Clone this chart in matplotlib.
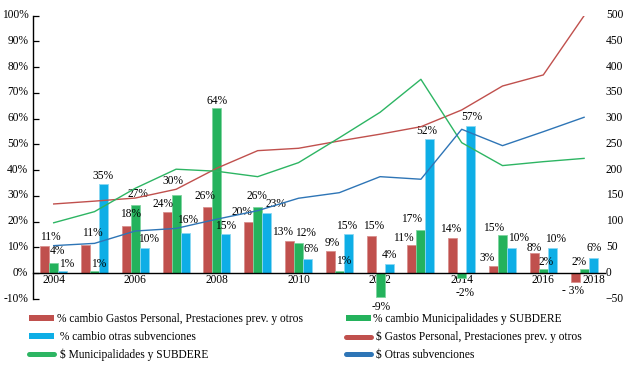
import matplotlib
matplotlib.use("Agg")
import matplotlib.pyplot as plt
from matplotlib.patches import Rectangle
from matplotlib.lines import Line2D
from matplotlib.transforms import ScaledTranslation
import numpy as np

plt.rcParams['font.family'] = ['Liberation Serif', 'DejaVu Serif']
plt.rcParams['font.size'] = 8.3

# ---------------- data ----------------
years = [2004, 2005, 2006, 2007, 2008, 2009, 2010, 2011, 2012, 2013, 2014, 2015, 2016, 2017]
tick_labels = ['2004', '2006', '2008', '2010', '2012', '2014', '2016', '2018']

pct_gastos = [10.6, 11.1, 18.4, 23.6, 25.8, 19.9, 12.6, 8.5, 14.5, 11.1, 13.8, 2.7, 7.8, -3.4]
pct_munis = [3.9, 0.9, 26.6, 30.4, 64.2, 25.8, 11.6, 0.8, -9.1, 16.7, -1.8, 15.0, 1.6, 1.8]
pct_otras = [0.7, 34.6, 9.9, 15.6, 15.2, 23.4, 5.6, 15.2, 3.6, 52.1, 57.0, 9.8, 9.9, 6.0]

lbl_gastos = ['11%', '11%', '18%', '24%', '26%', '20%', '13%', '9%', '15%', '11%', '14%', '3%', '8%', '- 3%']
lbl_munis = ['4%', '1%', '27%', '30%', '64%', '26%', '12%', '1%', '-9%', '17%', '-2%', '15%', '2%', '2%']
lbl_otras = ['1%', '35%', '10%', '16%', '15%', '23%', '6%', '15%', '4%', '52%', '57%', '10%', '10%', '6%']

mm_gastos = [134.5, 140, 146, 163, 204, 238, 242.6, 256.8, 270, 284.5, 317, 363.5, 385, 500]
mm_munis = [98, 119.6, 165, 202, 198, 187.5, 214.7, 263, 312.5, 376.5, 253.5, 209, 216.6, 223]
mm_otras = [53.6, 58, 82, 87, 105, 121.5, 145.6, 156.4, 187.5, 182.5, 279.5, 247.7, 274.8, 302.8]

legend_labels = [
    '% cambio Gastos Personal, Prestaciones prev. y otros',
    '% cambio Municipalidades y SUBDERE',
    ' % cambio otras subvenciones',
    ' $ Gastos Personal, Prestaciones prev. y otros',
    ' $ Municipalidades y SUBDERE',
    ' $ Otras subvenciones',
]

# ---------------- style ----------------
c_red, c_green, c_blue = '#C0504D', '#24B25C', '#0EAEE6'
e_red, e_green, e_blue = '#D9908E', '#7FD49F', '#8AD8F2'
l_red, l_green, l_blue = '#C0504D', '#2DB563', '#2E75B6'

# label nudges (dx, dy) in pixels relative to default placement
nudge_gastos = [(6, 0), (6.5, 3), (4, 3.5), (-4, 0), (-2.5, 2.5), (-7, 1), (-6.5, 0), (2, 0),
                (2, 1.5), (-9, -1.5), (-2, 0), (-6, 0), (0, -3.5), (-2, 0)]
nudge_munis = [(3.5, 3.5), (4, -1.5), (3, 2.5), (-3, 5), (0, -2), (-1, 2.5), (6.5, 2), (4, 1.5),
               (1, 1.5), (-9, 3), (3, 7), (-9, -2), (2.5, -1), (-5, -1.5)]
nudge_otras = [(4, -1), (0, 0), (4, 0), (2, 4.5), (0, 0), (9, 0), (4, 1), (-1.5, 0),
               (0, 0), (-3, 0), (1, 0.5), (7, 2), (3.5, 0), (1, 1)]

fig = plt.figure(figsize=(6.31, 3.67), dpi=100)
ax = fig.add_axes([33.3 / 631, 1 - 299 / 367, (604.5 - 33.3) / 631, (299 - 15.7) / 367])

x = np.arange(len(years))
w = 0.22
ax.bar(x - w, pct_gastos, w, color=c_red, edgecolor=e_red, linewidth=0.6, zorder=2)
ax.bar(x, pct_munis, w, color=c_green, edgecolor=e_green, linewidth=0.6, zorder=2)
ax.bar(x + w, pct_otras, w, color=c_blue, edgecolor=e_blue, linewidth=0.6, zorder=2)

base_gap = 8.5  # px
for off, vals, lbls, nud in [(-w, pct_gastos, lbl_gastos, nudge_gastos),
                             (0, pct_munis, lbl_munis, nudge_munis),
                             (w, pct_otras, lbl_otras, nudge_otras)]:
    for i, (v, t, (dx, dy)) in enumerate(zip(vals, lbls, nud)):
        sgn = 1 if v >= 0 else -1
        ypx = sgn * (base_gap + dy)
        ax.annotate(t, (x[i] + off, v), xytext=(dx * 0.72, ypx * 0.72),
                    textcoords='offset points', ha='center', va='center',
                    fontsize=8.3, zorder=3)

ax.set_xlim(-0.5, len(years) - 0.5)
ax.set_ylim(-10, 100)
ax.set_yticks(np.arange(-10, 101, 10))
ax.set_yticklabels([f'{v:.0f}%' for v in np.arange(-10, 101, 10)])
tick_pos = [i for i in range(0, len(years), 2)] + [len(years) - 1 + 0.25]
ax.set_xticks(tick_pos)
ax.set_xticklabels(tick_labels)

for s in ['top', 'right']:
    ax.spines[s].set_visible(False)
ax.spines['bottom'].set_position(('data', 0))
ax.spines['bottom'].set_color('black')
ax.spines['bottom'].set_linewidth(1.0)
ax.spines['left'].set_color('black')
ax.spines['left'].set_linewidth(1.0)
ax.tick_params(axis='x', length=0, pad=0.5)
ax.tick_params(axis='y', direction='in', length=4, width=0.9, pad=3.6)
ax.patch.set_visible(False)

ax2 = ax.twinx()
ax2.plot(x, mm_gastos, color=l_red, lw=1.0, zorder=4)
ax2.plot(x, mm_munis, color=l_green, lw=1.0, zorder=4)
ax2.plot(x, mm_otras, color=l_blue, lw=1.0, zorder=4)
ax2.set_ylim(-50, 500)
ax2.set_yticks(np.arange(-50, 501, 50))
for s in ax2.spines.values():
    s.set_visible(False)
ax2.tick_params(axis='y', length=0, pad=1)

up = ScaledTranslation(0, 2 / 100, fig.dpi_scale_trans)
for lbl in ax.get_yticklabels() + ax2.get_yticklabels():
    lbl.set_transform(lbl.get_transform() + up)

# ---------------- legend ----------------
h_bar_red = Rectangle((0, 0), 1, 1, facecolor=c_red, edgecolor='none')
h_bar_green = Rectangle((0, 0), 1, 1, facecolor=c_green, edgecolor='none')
h_bar_blue = Rectangle((0, 0), 1, 1, facecolor=c_blue, edgecolor='none')
h_line_red = Line2D([], [], color=l_red, lw=3.6, solid_capstyle='round')
h_line_green = Line2D([], [], color=l_green, lw=3.6, solid_capstyle='round')
h_line_blue = Line2D([], [], color=l_blue, lw=3.6, solid_capstyle='round')

common = dict(frameon=False, fontsize=8.3, handlelength=2.17, handleheight=0.43,
              handletextpad=0.2, labelspacing=0.5, borderpad=0, borderaxespad=0,
              loc='upper left', bbox_transform=fig.transFigure)
leg1 = fig.legend([h_bar_red, h_bar_blue, h_line_green],
                  [legend_labels[0], legend_labels[2], legend_labels[4]],
                  bbox_to_anchor=(29.3 / 631, 1 - 313 / 367), **common)
leg2 = fig.legend([h_bar_green, h_line_red, h_line_blue],
                  [legend_labels[1], legend_labels[3], legend_labels[5]],
                  bbox_to_anchor=(345.5 / 631, 1 - 313 / 367), **common)

fig.savefig('out.png', dpi=100)
